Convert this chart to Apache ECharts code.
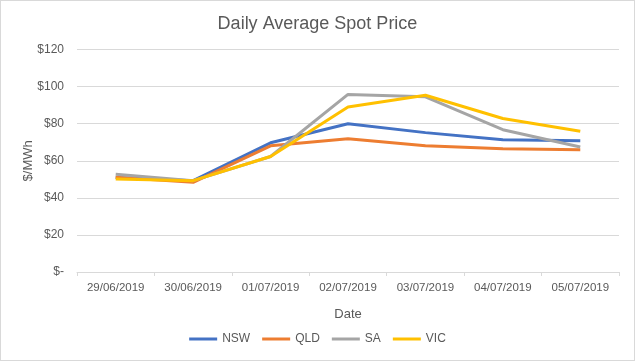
<!DOCTYPE html>
<html><head><meta charset="utf-8">
<script src="https://cdn.jsdelivr.net/npm/echarts@6/dist/echarts.min.js"></script>
<style>html,body{margin:0;padding:0;background:#fff}#c{width:633px;height:359px;border:1px solid #d9d9d9}</style>
</head><body><div id="c"></div>
<script>
const categories = ['29/06/2019','30/06/2019','01/07/2019','02/07/2019','03/07/2019','04/07/2019','05/07/2019'];
const nsw = [51, 49.3, 69.7, 80, 75.2, 71.4, 70.8];
const qld = [51.1, 48.4, 68.1, 71.9, 68.1, 66.5, 66];
const sa  = [52.8, 49.3, 62.3, 95.8, 94.5, 76.8, 67.4];
const vic = [50.2, 49.3, 62.3, 89, 95.4, 82.8, 76];
const seriesNames = ['NSW','QLD','SA','VIC'];
const colors = ['#4472C4','#ED7D31','#A5A5A5','#FFC000'];
const font = '"Liberation Sans", "Open Sans", sans-serif';
const chart = echarts.init(document.getElementById('c'));
const mk = (name, data, i) => ({name, type:'line', data, symbol:'none', lineStyle:{width:3, color:colors[i]}, itemStyle:{color:colors[i]}});
chart.setOption({
  animation:false,
  title:{text:'Daily Average Spot Price', left:'center', top:9, textStyle:{fontFamily:font, fontSize:18, fontWeight:'normal', color:'#595959'}},
  grid:{left:76, right:15, top:48.6, bottom:88},
  legend:{bottom:10, left:'center', itemWidth:28, itemHeight:3, itemGap:12, icon:'rect', textStyle:{fontFamily:font, fontSize:12, color:'#595959'}, data:seriesNames},
  xAxis:{type:'category', data:categories, boundaryGap:true, name:'Date', nameLocation:'middle', nameGap:36,
    nameTextStyle:{fontFamily:font, fontSize:13, color:'#595959'},
    axisLine:{lineStyle:{color:'#d9d9d9'}}, axisTick:{show:true, length:4, lineStyle:{color:'#d9d9d9'}},
    axisLabel:{interval:0, fontFamily:font, fontSize:11.5, color:'#595959', margin:10}},
  yAxis:{type:'value', min:0, max:120, interval:20, name:'$/MWh', nameLocation:'middle', nameGap:42, nameRotate:90, nameMoveOverlap:false,
    nameTextStyle:{fontFamily:font, fontSize:13, color:'#595959'},
    axisLine:{show:false}, axisTick:{show:false}, splitLine:{lineStyle:{color:'#d9d9d9'}},
    axisLabel:{fontFamily:font, fontSize:12, color:'#595959', margin:13, formatter:v => v===0 ? '$-' : '$'+v}},
  series:[mk('NSW',nsw,0), mk('QLD',qld,1), mk('SA',sa,2), mk('VIC',vic,3)]
});
</script></body></html>
